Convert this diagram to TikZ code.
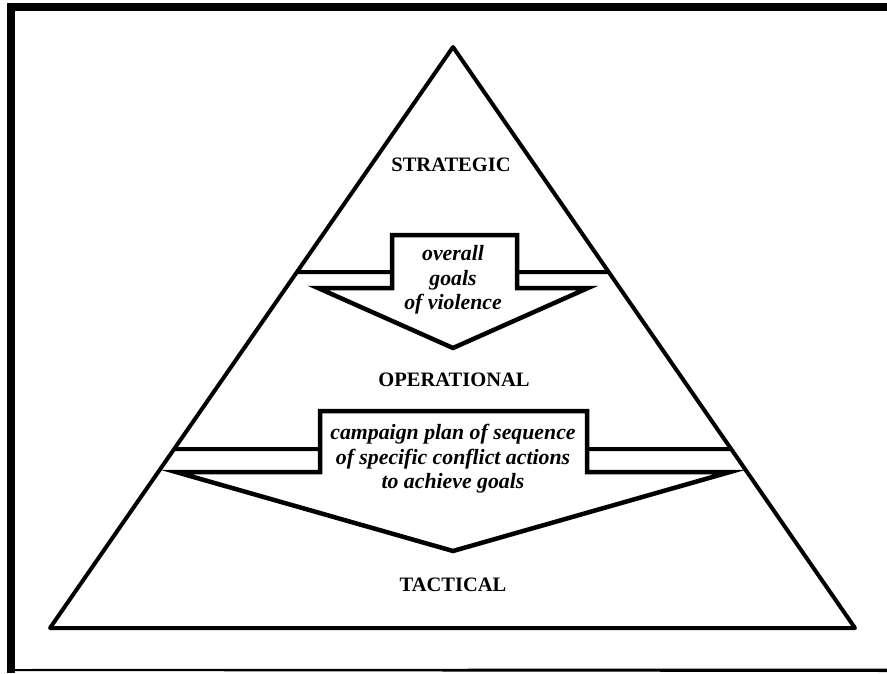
\documentclass[tikz,border=0pt]{standalone}
\usepackage{fontspec}
\setmainfont{Liberation Serif}

\begin{document}
\begin{tikzpicture}[x=1pt,y=-1pt,
 level/.style={font=\bfseries\fontsize{20.5}{24}\selectfont},
 note/.style={font=\bfseries\itshape\fontsize{21.8}{24.5}\selectfont,align=center},
 edge/.style={line width=4pt,line join=round},
 downarrow/.style={line width=4.5pt,line join=miter,fill=white}]
 \useasboundingbox (0,0) rectangle (887,673);
 % frame
 \fill (7,3) rectangle (887,11);
 \fill (7,3) rectangle (15,673);
 \fill (15,669) -- (887,668.5) -- (887,672) -- (15,671) -- cycle;
 % pyramid
 \coordinate (A) at (453,47);
 \coordinate (L) at (50,628);
 \coordinate (R) at (855,628);
 \draw[edge] (L) -- (A) -- (R) -- cycle;
 % upper band and arrow
 \draw[edge] (intersection of A--L and 0,272--1,272) -- (392,272);
 \draw[edge] (intersection of A--R and 0,272--1,272) -- (517,272);
 \draw[downarrow] (392,235) -- (517,235) -- (517,288) -- (588,288)
 -- (453,348) -- (318,288) -- (392,288) -- cycle;
 % lower band and arrow
 \draw[edge] (intersection of A--L and 0,449--1,449) -- (320,449);
 \draw[edge] (intersection of A--R and 0,449--1,449) -- (587,449);
 \draw[downarrow] (320,411) -- (587,411) -- (587,472) -- (730,472)
 -- (453,551) -- (176,472) -- (320,472) -- cycle;
 % labels
 \node[level] (strategic) at (451,165) {STRATEGIC};
 \node[level] (operational) at (454,380) {OPERATIONAL};
 \node[level] (tactical) at (453,585) {TACTICAL};
 \node[note] (goals) at (453,280) {overall\\goals\\of violence};
 \node[note] (plan) at (453,459) {campaign plan of sequence\\of specific conflict actions\\to achieve goals};
\end{tikzpicture}
\end{document}
